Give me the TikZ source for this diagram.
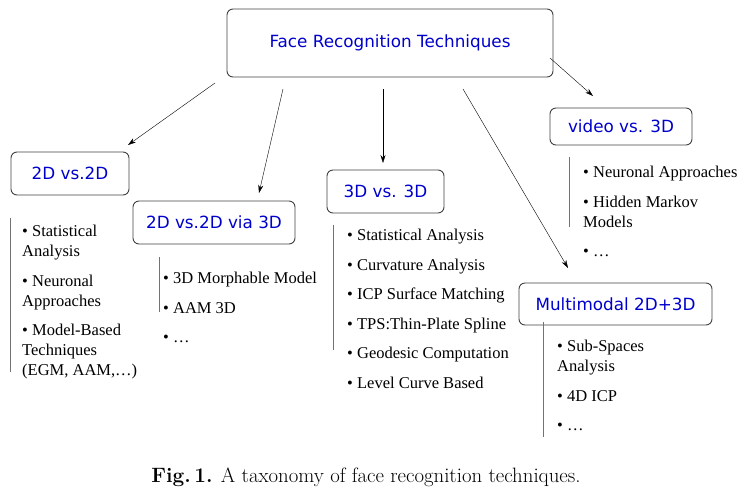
\documentclass[tikz,border=0pt]{standalone}
\usepackage{fontspec}
\setmainfont{Liberation Serif}
\newfontfamily\boxfont{DejaVu Sans}
\newfontfamily\capfont{Latin Modern Roman}
\usepackage{tikz}
\usetikzlibrary{arrows.meta,calc}
\tikzset{every picture/.append style={x=1pt,y=-1pt}}
\tikzset{techbox/.style={draw=black!75, rounded corners=6pt, line width=0.9pt, text=blue!80!black, font=\boxfont\fontsize{16.8}{20}\selectfont}}
\tikzset{itemlist/.style={anchor=north west, align=left, inner sep=0pt, font=\fontsize{16.5}{20}\selectfont}}
\tikzset{bar/.style={draw=black!55, semithick}}
\tikzset{branch/.style={thin, -{Stealth[length=8pt,width=5pt]}}}
\newcommand{\itemgap}{\\[9.5pt]}

\begin{document}
\begin{tikzpicture}
%taxonomy tree: root box, five branches, each with a list of methods
\useasboundingbox (0,0) rectangle (745,499);
\node (root) at (390,43)[techbox, minimum width=326pt, minimum height=68pt]{Face Recognition Techniques};
\node (dd) at (70,173.5)[techbox, minimum width=118pt, minimum height=43pt]{2D vs.2D};
\node (ddvia) at (214,222.5)[techbox, minimum width=162pt, minimum height=43pt]{2D vs.2D via 3D};
\node (tt) at (385.5,191.5)[techbox, minimum width=117pt, minimum height=43pt]{3D vs. 3D};
\node (vid) at (621,126.5)[techbox, minimum width=142pt, minimum height=37pt]{video vs. 3D};
\node (multi) at (615.5,304)[techbox, minimum width=193pt, minimum height=42pt]{Multimodal 2D+3D};
% arrow ends
\coordinate (a1) at (215,83); \coordinate (b1) at (128,145);
\coordinate (a2) at (283,89); \coordinate (b2) at (259,193);
\coordinate (a3) at (383,89); \coordinate (b3) at (383,163);
\coordinate (a4) at (463,89); \coordinate (b4) at (568,268);
\coordinate (a5) at (550,58); \coordinate (b5) at (593,96);
\draw[branch] (a1)--(b1);
\draw[branch] (a2)--(b2);
\draw[branch] (a3)--(b3);
\draw[branch] (a4)--(b4);
\draw[branch] (a5)--(b5);
% lists
\node (ddlist) at (22,225)[itemlist]{\textbullet{} Statistical\\Analysis\itemgap \textbullet{} Neuronal\\Approaches\itemgap \textbullet{} Model-Based\\Techniques\\(EGM, AAM,\dots)};
\node (vialist) at (163,272)[itemlist]{\textbullet{} 3D Morphable Model\itemgap \textbullet{} AAM 3D\itemgap \textbullet{} \dots};
\node (ttlist) at (347,229)[itemlist]{\textbullet{} Statistical Analysis\itemgap \textbullet{} Curvature Analysis\itemgap \textbullet{} ICP Surface Matching\itemgap \textbullet{} TPS:Thin-Plate Spline\itemgap \textbullet{} Geodesic Computation\itemgap \textbullet{} Level Curve Based};
\node (vidlist) at (583,166)[itemlist]{\textbullet{} Neuronal Approaches\itemgap \textbullet{} Hidden Markov\\Models\itemgap \textbullet{} \dots};
\node (multilist) at (557,340)[itemlist]{\textbullet{} Sub-Spaces\\Analysis\itemgap \textbullet{} 4D ICP\itemgap \textbullet{} \dots};
% side bars
\coordinate (p1) at (10,218); \coordinate (q1) at (10,372);
\coordinate (p2) at (159,257); \coordinate (q2) at (159,312);
\coordinate (p3) at (333,225); \coordinate (q3) at (333,350);
\coordinate (p4) at (569,157); \coordinate (q4) at (569,227);
\coordinate (p5) at (543,322); \coordinate (q5) at (543,437);
\foreach \i in {1,...,5}{\draw[bar] (p\i)--(q\i);}
\node (caption) at (366,477)[font=\capfont\fontsize{20.8}{24}\selectfont]{\textbf{Fig.\,1.} A taxonomy of face recognition techniques.};
\end{tikzpicture}
\end{document}
